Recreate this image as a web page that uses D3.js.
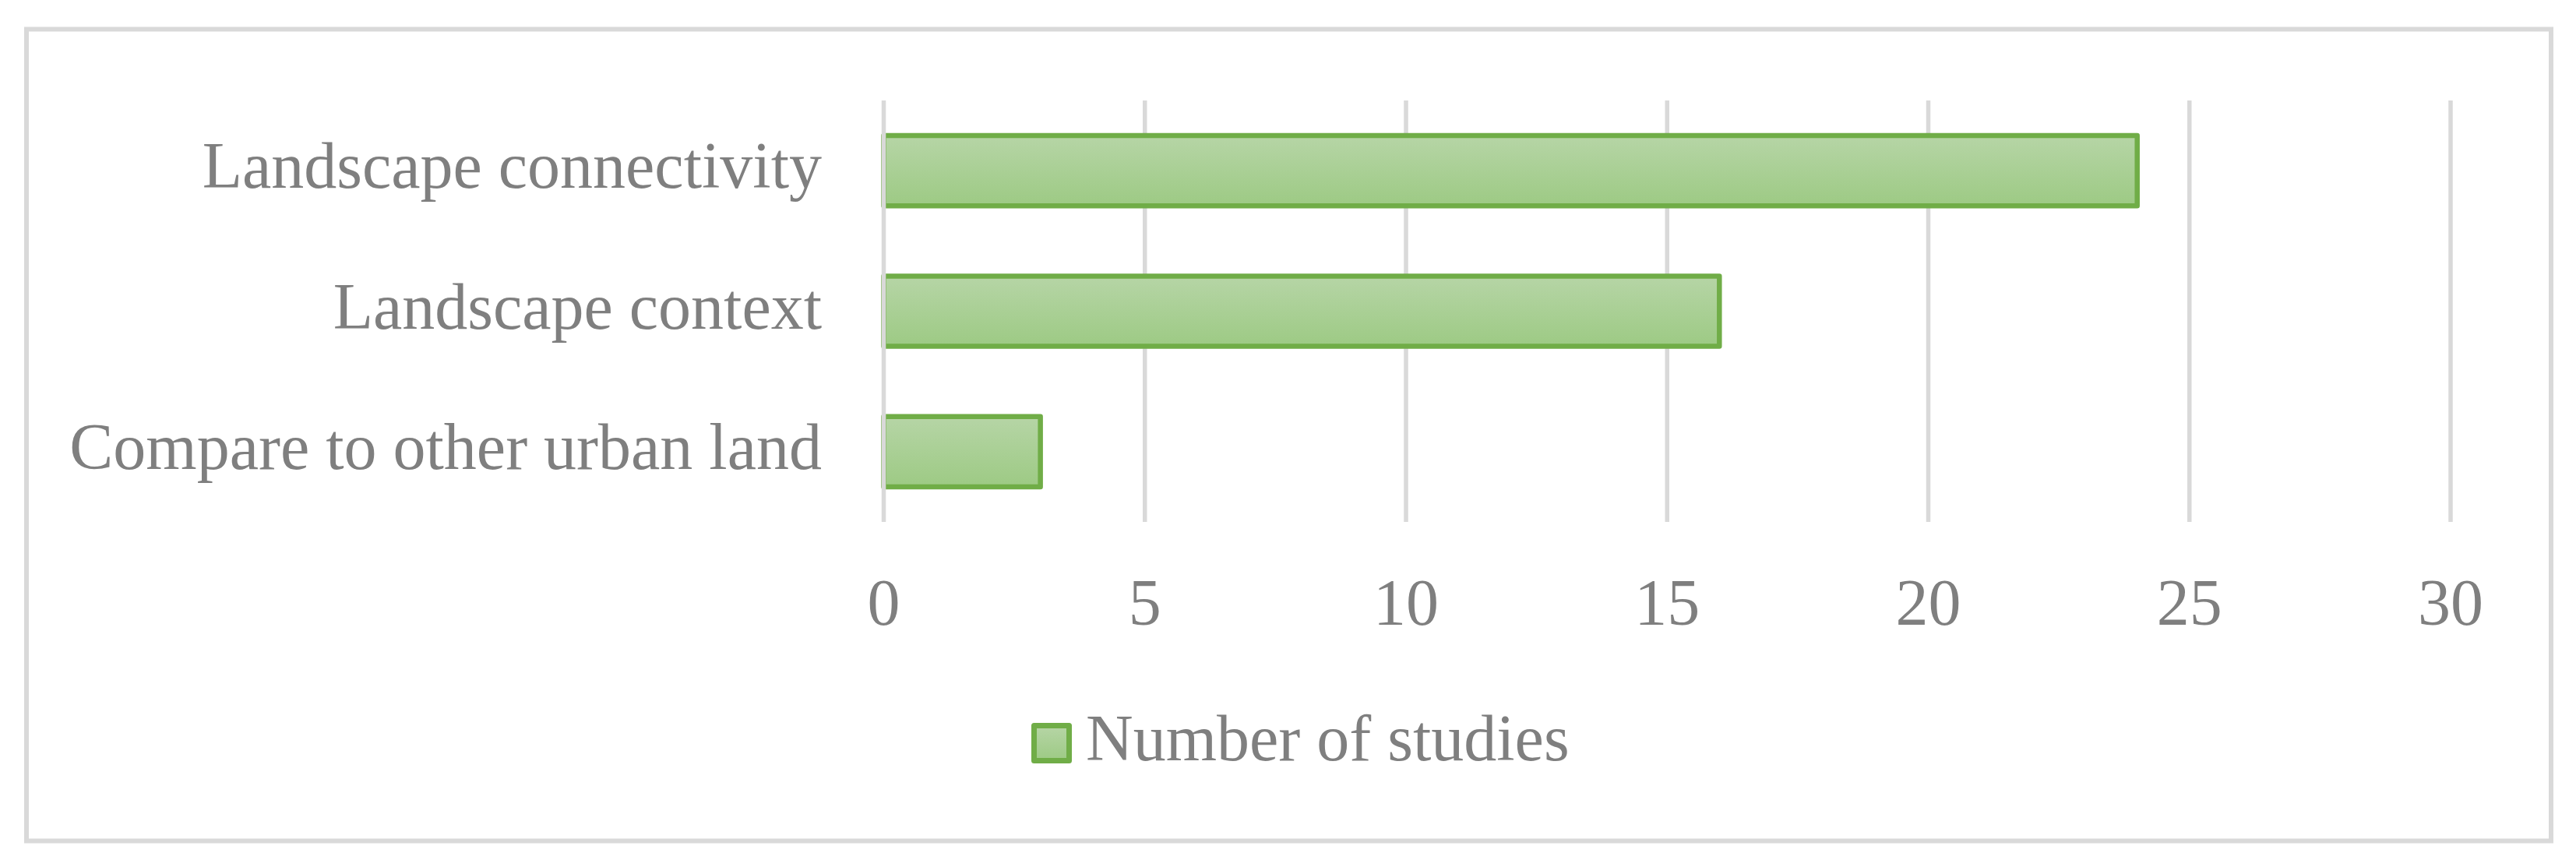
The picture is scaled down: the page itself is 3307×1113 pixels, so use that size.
<!DOCTYPE html>
<html>
<head>
<meta charset="utf-8">
<script src="https://cdn.jsdelivr.net/npm/d3@7"></script>
<style>
  html, body { margin: 0; padding: 0; background: #ffffff; }
  svg { display: block; }
  text { font-family: "Liberation Serif", "DejaVu Serif", serif; fill: #7f7f7f; }
</style>
</head>
<body>
<svg id="chart"></svg>
<script>
// data
const categories = ['Landscape connectivity', 'Landscape context', 'Compare to other urban land'];
const studies = [24, 16, 3];
const xTicks = [0, 5, 10, 15, 20, 25, 30];
const seriesName = 'Number of studies';

const width = 3307, height = 1113;
const margin = {top: 129, right: 161, bottom: 443, left: 1134.5};

const gridColor = '#d9d9d9';
const barStroke = '#70ad47';
const fontSize = 84;

const svg = d3.select('#chart')
  .attr('width', width)
  .attr('height', height);

// gradient fill like the office "light gradient"
const defs = svg.append('defs');
const grad = defs.append('linearGradient')
  .attr('id', 'barFill')
  .attr('x1', 0).attr('y1', 0)
  .attr('x2', 0).attr('y2', 1);
grad.append('stop').attr('offset', '0%').attr('stop-color', '#b6d5a6');
grad.append('stop').attr('offset', '100%').attr('stop-color', '#9dca84');

// outer chart frame
svg.append('rect')
  .attr('x', 34)
  .attr('y', 37.5)
  .attr('width', 3241)
  .attr('height', 1042)
  .attr('fill', 'white')
  .attr('stroke', gridColor)
  .attr('stroke-width', 6);

const x = d3.scaleLinear()
  .domain([0, 30])
  .range([margin.left, width - margin.right]);

const y = d3.scaleBand()
  .domain(categories)
  .range([margin.top, height - margin.bottom])
  .paddingInner(0.5)
  .paddingOuter(0.25);

// vertical gridlines (behind bars, except the zero line)
svg.append('g')
  .selectAll('line')
  .data(xTicks.filter(d => d !== 0))
  .enter().append('line')
  .attr('x1', d => x(d))
  .attr('x2', d => x(d))
  .attr('y1', margin.top)
  .attr('y2', height - margin.bottom)
  .attr('stroke', gridColor)
  .attr('stroke-width', 5.5);

const rows = categories.map((c, i) => ({label: c, value: studies[i]}));

svg.append('g')
  .selectAll('rect')
  .data(rows)
  .enter().append('rect')
  .attr('x', x(0))
  .attr('y', d => y(d.label))
  .attr('width', d => x(d.value) - x(0))
  .attr('height', y.bandwidth())
  .attr('fill', 'url(#barFill)')
  .attr('stroke', barStroke)
  .attr('stroke-width', 6.5)
  .attr('stroke-linejoin', 'round');

// category axis line on top
svg.append('line')
  .attr('x1', x(0))
  .attr('x2', x(0))
  .attr('y1', margin.top)
  .attr('y2', height - margin.bottom)
  .attr('stroke', gridColor)
  .attr('stroke-width', 5.5);

// category labels
svg.append('g')
  .selectAll('text')
  .data(rows)
  .enter().append('text')
  .attr('x', 1055)
  .attr('y', d => y(d.label) + y.bandwidth() / 2 + 22)
  .attr('text-anchor', 'end')
  .attr('font-size', fontSize)
  .text(d => d.label);

// value axis labels
svg.append('g')
  .selectAll('text')
  .data(xTicks)
  .enter().append('text')
  .attr('x', d => x(d))
  .attr('y', 802)
  .attr('text-anchor', 'middle')
  .attr('font-size', fontSize)
  .text(d => d);

// legend
const legend = svg.append('g')
  .attr('transform', 'translate(1324,928)');

legend.append('rect')
  .attr('x', 3.5)
  .attr('y', 3.5)
  .attr('width', 45)
  .attr('height', 45)
  .attr('fill', 'url(#barFill)')
  .attr('stroke', barStroke)
  .attr('stroke-width', 7)
  .attr('stroke-linejoin', 'round');

legend.append('text')
  .attr('x', 70)
  .attr('y', 48)
  .attr('font-size', fontSize)
  .text(seriesName);
</script>
</body>
</html>
